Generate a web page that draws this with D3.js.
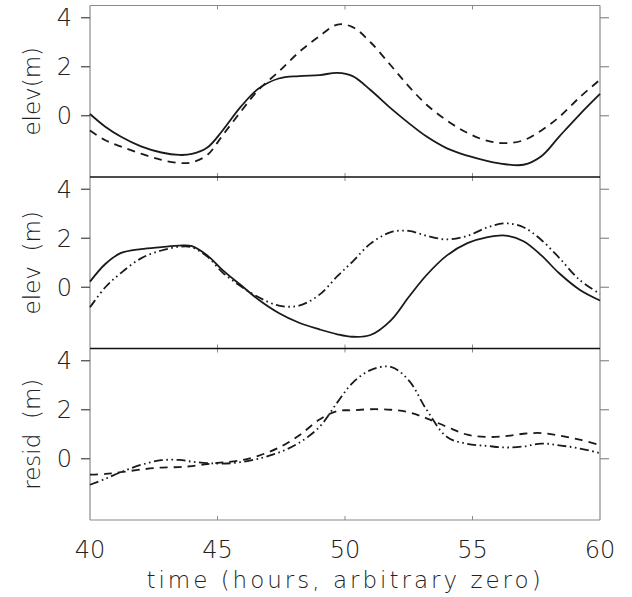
<!DOCTYPE html>
<html>
<head>
<meta charset="utf-8">
<script src="https://cdn.jsdelivr.net/npm/d3@7"></script>
<style>
  body { margin: 0; background: #fff; }
  text { font-family: "DejaVu Sans", sans-serif; font-weight: 200; fill: #222; }
</style>
</head>
<body>
<script>
// hours
var hours = [40, 40.6, 41.2, 42, 42.8, 43.5, 44, 44.6, 45.2, 45.9, 46.6, 47.4, 48.2, 49, 49.7,
  50.3, 51, 51.8, 52.5, 53.2, 54, 54.8, 55.6, 56.3, 57, 57.7, 58.4, 59.2, 60];

// top panel: elev(m)
var topSolid  = [0.07, -0.45, -0.85, -1.25, -1.5, -1.6, -1.56, -1.3, -0.6, 0.35, 1.1, 1.52, 1.62, 1.66, 1.75,
  1.62, 1.05, 0.3, -0.3, -0.85, -1.33, -1.63, -1.85, -1.98, -2.0, -1.65, -0.85, 0.05, 0.89];
var topDashed = [-0.6, -1.0, -1.25, -1.55, -1.8, -1.93, -1.9, -1.6, -0.8, 0.15, 1.05, 1.8, 2.6, 3.25, 3.72,
  3.62, 3.0, 2.05, 1.2, 0.45, -0.2, -0.7, -1.03, -1.12, -1.0, -0.6, -0.05, 0.75, 1.47];

// middle panel: elev (m)
var midSolid  = [0.23, 0.95, 1.39, 1.56, 1.64, 1.7, 1.68, 1.3, 0.7, 0.1, -0.5, -1.05, -1.45, -1.72, -1.92,
  -2.02, -1.95, -1.35, -0.4, 0.5, 1.3, 1.8, 2.05, 2.11, 1.88, 1.3, 0.57, -0.1, -0.54];
var midDdot   = [-0.82, 0.0, 0.57, 1.18, 1.5, 1.65, 1.63, 1.25, 0.6, 0.05, -0.4, -0.75, -0.75, -0.3, 0.45,
  1.05, 1.78, 2.25, 2.3, 2.1, 1.95, 2.1, 2.45, 2.61, 2.45, 1.93, 1.2, 0.3, -0.27];

// bottom panel: resid (m)
var botDashed = [-0.65, -0.62, -0.55, -0.44, -0.36, -0.34, -0.3, -0.22, -0.15, -0.07, 0.12, 0.45, 0.95, 1.6, 1.95,
  1.98, 2.02, 2.0, 1.9, 1.65, 1.3, 0.98, 0.89, 0.92, 1.02, 1.05, 0.95, 0.78, 0.55];
var botDdot   = [-1.06, -0.82, -0.55, -0.25, -0.06, -0.05, -0.12, -0.18, -0.2, -0.14, 0.0, 0.25, 0.65, 1.3, 2.3,
  3.1, 3.62, 3.75, 3.2, 2.0, 0.89, 0.61, 0.52, 0.46, 0.5, 0.62, 0.55, 0.42, 0.23];

var yTicks = [0, 2, 4];
var xTicks = [40, 45, 50, 55, 60];

var width = 632, height = 597;
var left = 90, right = 600, panelTop = 5.5, panelH = 171.5;

var svg = d3.select("body").append("svg")
  .attr("width", width).attr("height", height);

var x = d3.scaleLinear().domain([40, 60]).range([left, right]);

var panels = [
  {label: "elev(m)", lines: [{v: topSolid, dash: null}, {v: topDashed, dash: "8,6"}]},
  {label: "elev  (m)", lines: [{v: midSolid, dash: null}, {v: midDdot, dash: "9,3.5,1.6,3.5,1.6,3.5"}]},
  {label: "resid  (m)", lines: [{v: botDashed, dash: "8,6"}, {v: botDdot, dash: "9,3.5,1.6,3.5,1.6,3.5"}]}
];

panels.forEach(function (p, i) {
  var y0 = panelTop + i * panelH;
  var y = d3.scaleLinear().domain([-2.5, 4.5]).range([y0 + panelH, y0]);
  var g = svg.append("g");

  // frame sides
  g.append("line").attr("x1", left).attr("x2", left).attr("y1", y0).attr("y2", y0 + panelH)
    .attr("stroke", "#8a8a8a").attr("stroke-width", 1.2);
  g.append("line").attr("x1", right).attr("x2", right).attr("y1", y0).attr("y2", y0 + panelH)
    .attr("stroke", "#8a8a8a").attr("stroke-width", 1.2);

  // left ticks and labels
  g.selectAll(".lt").data(yTicks).enter().append("line")
    .attr("x1", left - 9).attr("x2", left).attr("y1", y).attr("y2", y)
    .attr("stroke", "#444").attr("stroke-width", 1.2);
  g.selectAll(".rt").data(yTicks).enter().append("line")
    .attr("x1", right).attr("x2", right + 9).attr("y1", y).attr("y2", y)
    .attr("stroke", "#8a8a8a").attr("stroke-width", 1.2);
  g.selectAll(".yl").data(yTicks).enter().append("text")
    .attr("x", left - 18).attr("y", function (d) { return y(d); })
    .attr("dy", "0.36em").attr("text-anchor", "end")
    .attr("font-size", 24).text(function (d) { return d; });

  // small x ticks at top and bottom of each panel
  g.selectAll(".xt").data(xTicks.slice(1, -1)).enter().append("line")
    .attr("x1", x).attr("x2", x).attr("y1", y0).attr("y2", y0 + 4)
    .attr("stroke", "#8a8a8a");
  g.selectAll(".xb").data(xTicks.slice(1, -1)).enter().append("line")
    .attr("x1", x).attr("x2", x).attr("y1", y0 + panelH - 4).attr("y2", y0 + panelH)
    .attr("stroke", "#8a8a8a");

  g.append("text")
    .attr("transform", "translate(40," + (y0 + panelH / 2) + ") rotate(-90)")
    .attr("text-anchor", "middle").attr("font-size", 23)
    .style("white-space", "pre")
    .text(p.label);

  var line = d3.line()
    .x(function (d, k) { return x(hours[k]); })
    .y(function (d) { return y(d); })
    .curve(d3.curveCatmullRom.alpha(0.5));

  p.lines.forEach(function (s) {
    g.append("path").datum(s.v)
      .attr("d", line)
      .attr("fill", "none")
      .attr("stroke", "#1a1a1a")
      .attr("stroke-width", 1.8)
      .attr("stroke-dasharray", s.dash);
  });
});

// outer top and bottom, dark dividers
svg.append("line").attr("x1", left).attr("x2", right).attr("y1", panelTop).attr("y2", panelTop)
  .attr("stroke", "#8a8a8a").attr("stroke-width", 1.2);
svg.append("line").attr("x1", left).attr("x2", right).attr("y1", panelTop + 3 * panelH).attr("y2", panelTop + 3 * panelH)
  .attr("stroke", "#8a8a8a").attr("stroke-width", 1.2);
[1, 2].forEach(function (i) {
  svg.append("line").attr("x1", left).attr("x2", right)
    .attr("y1", panelTop + i * panelH).attr("y2", panelTop + i * panelH)
    .attr("stroke", "#111").attr("stroke-width", 1.6);
});

// x axis labels
svg.selectAll(".xl").data(xTicks).enter().append("text")
  .attr("x", x).attr("y", 558).attr("text-anchor", "middle")
  .attr("font-size", 24).text(function (d) { return d; });

svg.append("text")
  .attr("x", (left + right) / 2).attr("y", 588).attr("text-anchor", "middle")
  .attr("font-size", 23).attr("letter-spacing", 3)
  .text("time (hours, arbitrary zero)");
</script>
</body>
</html>
